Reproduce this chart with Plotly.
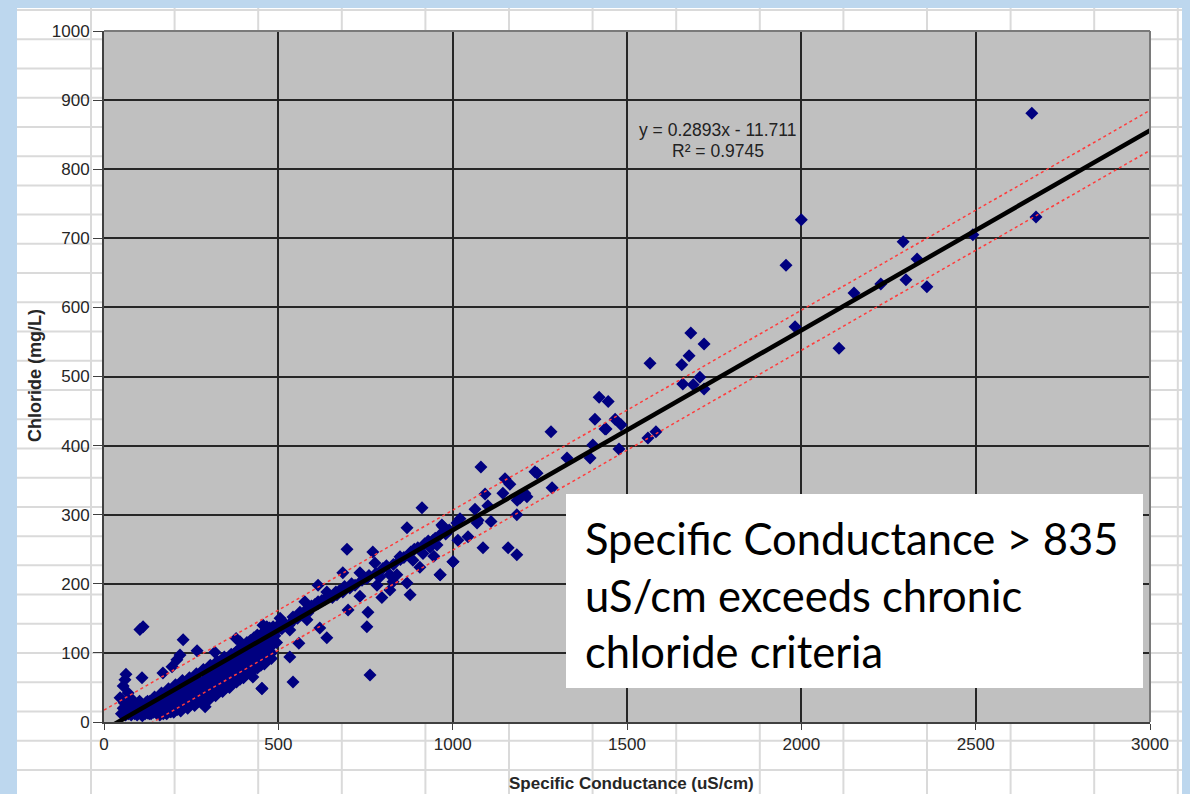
import plotly.graph_objects as go

# ---------------- data ----------------
# dense low-range cloud
cond_low = [50,55,58,60,62,65,68,70,72,75,78,80,82,85,88,90,92,95,98,100,102,105,108,110,112,115,118,120,122,125,128,130,132,135,138,140,142,145,148,150,
            152,155,158,160,162,165,168,170,172,175,178,180,182,185,188,190,192,195,198,200,202,205,208,210,212,215,218,220,222,225,228,230,232,235,238,240,
            242,245,248,250,252,255,258,260,262,265,268,270,272,275,278,280,282,285,288,290,292,295,298,300]
chl_low = [12,20,28,15,10,22,30,12,18,25,10,15,32,20,12,26,16,10,22,14,30,18,11,24,15,20,12,28,18,13,22,16,30,12,20,26,14,18,32,22,
           12,28,18,35,14,24,30,16,38,22,13,28,34,18,40,25,15,32,20,42,28,18,36,24,44,30,20,38,26,46,32,22,42,30,50,36,
           25,44,32,52,40,28,48,36,55,42,30,50,38,58,45,34,52,40,60,48,36,56,44,62]

cond_mid = [302,305,308,310,312,315,318,320,322,325,328,330,332,335,338,340,342,345,348,350,352,355,358,360,362,365,368,370,372,375,378,380,382,385,388,390,
            392,395,398,400,402,405,408,410,412,415,418,420,422,425,428,430,432,435,438,440,445,448,450,455,458,460,465,468,470,475,478,480,485,490,495,500]
chl_mid = [50,68,55,72,45,62,78,58,48,70,82,62,52,75,85,65,56,80,70,90,60,84,74,95,64,88,78,58,98,82,70,102,88,65,96,80,
           105,72,92,110,85,100,75,115,92,104,82,118,96,108,88,122,100,112,92,126,105,118,95,128,110,100,132,115,105,136,120,110,138,125,115,140]

cond_fill = [65,75,85,95,105,115,125,135,145,155,165,175,185,195,205,215,225,235,245,255,265,275,285,295,305,315,325,335,345,355,365,375,385,395,405,415,425,435,445,455,465,475,
             110,130,150,170,190,210,230,250,270,290,310,330,350,370,390,410,430,450]
chl_fill = [18,14,26,20,26,17,30,22,36,26,42,33,48,38,54,44,60,47,64,52,70,57,76,64,82,70,88,76,94,80,98,86,104,90,110,96,114,100,120,106,126,112,
            9,12,15,20,25,30,36,42,48,55,62,68,74,80,86,92,98,104]

# lower edge of the dense cloud (below the lower dotted line)
cond_under = [160,160,170,180,180,190,200,200,210,220,220,230,240,240,250,260,260,270,280,280,290,300,300,310,320,320,330,340,340,350,
              360,360,370,380,380,390,400,400,410,420,420,430,440,440,450,460,460,470,480,480]
chl_under = [10,14,12,12,18,15,14,22,18,16,26,22,20,30,26,24,36,30,28,40,35,32,46,40,38,50,45,44,56,50,
             50,62,56,58,68,62,64,74,70,72,80,76,78,88,82,84,94,90,92,100]

cond_line = [510,520,530,545,555,565,575,585,595,605,615,625,635,645,655,665,675,690,710,720,740,760,780,800,810,830,850,860,880,890,900,920,930,950,980,990]
chl_line = [135,142,140,148,150,155,160,158,168,170,172,176,178,182,180,188,190,196,200,198,205,212,215,222,226,228,235,238,246,250,252,258,262,266,272,278]

# scattered points read individually
cond_pts = [112,103,227,267,218,209,195,169,109,63,60,55,69,46,290,427,453,379,390,456,318,467,
            869,969,697,771,777,685,734,754,791,820,849,886,915,944,964,1001,878,820,797,734,757,754,763,705,685,
            614,639,668,700,614,576,591,562,542,582,619,639,505,505,533,485,467,456,559,533,542,453,467,935,906,
            869,829,783,840,912,946,964,955,
            1282,1081,1236,1242,1150,1164,1285,1144,1207,1193,1213,1185,1093,1101,1064,1184,1073,1110,1070,1021,
            1012,972,1044,1015,1087,1159,1184,1001,964,
            1683,1721,1566,1657,1678,1709,1660,1690,1721,1420,1446,1408,1466,1440,1483,1402,1477,1394,1328,1560,1583,1437,
            1956,2292,2332,2300,2360,2228,2151,1982,2108,2000,2492,2661,2673]
chl_pts = [138,134,119,103,97,90,80,71,64,69,61,52,42,35,22,65,48,121,116,140,101,133,
           281,285,250,246,230,216,216,208,210,213,239,234,244,263,213,232,184,191,180,182,159,138,68,194,188,
           198,188,184,162,174,174,165,159,152,148,136,122,150,136,133,126,138,129,114,94,58,49,114,253,224,
           201,203,198,213,310,240,271,256,
           420,369,362,360,352,344,339,331,331,324,326,321,330,313,308,300,292,290,288,294,
           288,283,268,263,252,252,242,232,213,
           563,547,519,517,530,499,489,488,482,470,464,438,438,424,430,401,395,382,382,411,420,424,
           661,695,670,640,630,634,621,572,541,727,705,881,731]

# trendline as printed on the chart, and the dotted band offset
SLOPE = 0.2893
INTERCEPT = -11.711
BAND = 29.0
X_RANGE = [0, 3000]
Y_RANGE = [0, 1000]
x_ticks = [0, 500, 1000, 1500, 2000, 2500, 3000]
y_ticks = [0, 100, 200, 300, 400, 500, 600, 700, 800, 900, 1000]

sc = cond_low + cond_mid + cond_fill + cond_under + cond_line + cond_pts
cl = chl_low + chl_mid + chl_fill + chl_under + chl_line + chl_pts

# ---------------- figure ----------------
W, H = 1190, 794
OFF = 8  # page body margin
# plot area in page pixels: left 104, right 1150, top 31, bottom 722
ML = 104 - OFF
MT = 31 - OFF
PW = 1150 - 104
PH = 722 - 31
MR = W - ML - PW
MB = H - MT - PH


def px(xp):  # page pixel -> paper x
    return (xp - OFF - ML) / PW


def py(yp):  # page pixel -> paper y
    return (MT + PH - (yp - OFF)) / PH


fig = go.Figure()

fig.add_trace(go.Scatter(x=sc, y=cl, mode="markers",
                         marker=dict(symbol="diamond", size=10, color="#000080",
                                     line=dict(width=0)),
                         showlegend=False, hoverinfo="x+y"))

xl = X_RANGE
yfit = [SLOPE * v + INTERCEPT for v in xl]
fig.add_trace(go.Scatter(x=xl, y=[v + BAND for v in yfit], mode="lines",
                         line=dict(color="#FF3B3B", width=1.5, dash="dot"), showlegend=False))
fig.add_trace(go.Scatter(x=xl, y=[v - BAND for v in yfit], mode="lines",
                         line=dict(color="#FF3B3B", width=1.5, dash="dot"), showlegend=False))
fig.add_trace(go.Scatter(x=xl, y=yfit, mode="lines",
                         line=dict(color="black", width=4.5), showlegend=False))

shapes = []
# spreadsheet-like background grid
gx = 91.0
while gx < 1188:
    shapes.append(dict(type="line", xref="paper", yref="paper", x0=px(gx), x1=px(gx),
                       y0=py(6), y1=py(800), line=dict(color="#DADADA", width=2), layer="below"))
    gx += 83.6
gy = 10.0
while gy < 800:
    shapes.append(dict(type="line", xref="paper", yref="paper", x0=px(17), x1=px(1187),
                       y0=py(gy), y1=py(gy), line=dict(color="#DADADA", width=2), layer="below"))
    gy += 29.23
# light blue frame
for (a, b, c, d) in [(0, 0, 17, 800), (0, 0, 1200, 6), (1187, 0, 1200, 800)]:
    shapes.append(dict(type="rect", xref="paper", yref="paper", x0=px(a), x1=px(c),
                       y0=py(d), y1=py(b), fillcolor="#BDD7EE", line=dict(width=0), layer="below"))
# grey plot area
shapes.append(dict(type="rect", xref="paper", yref="paper", x0=0, x1=1, y0=0, y1=1,
                   fillcolor="#C0C0C0", line=dict(width=0), layer="below"))
# top / right border
shapes.append(dict(type="line", xref="paper", yref="paper", x0=0, x1=1, y0=1, y1=1,
                   line=dict(color="#7A7A7A", width=2), layer="above"))
shapes.append(dict(type="line", xref="paper", yref="paper", x0=1, x1=1, y0=0, y1=1,
                   line=dict(color="#7A7A7A", width=2), layer="above"))
# white text box
shapes.append(dict(type="rect", xref="paper", yref="paper", x0=px(566), x1=px(1143),
                   y0=py(688), y1=py(494), fillcolor="white", line=dict(width=0), layer="above"))

annotations = [
    dict(xref="paper", yref="paper", x=px(717), y=py(118), text="y = 0.2893x - 11.711",
         showarrow=False, font=dict(family="Liberation Sans, Arial", size=17.5, color="#222")),
    dict(xref="paper", yref="paper", x=px(718), y=py(139), text="R² = 0.9745",
         showarrow=False, font=dict(family="Liberation Sans, Arial", size=17.5, color="#222")),
    dict(xref="paper", yref="paper", x=px(583), y=py(594), xanchor="left", yanchor="middle",
         align="left",
         text="Specific Conductance > 835<br>uS/cm exceeds chronic<br>chloride criteria",
         showarrow=False, font=dict(family="Lato, Open Sans, sans-serif", size=43.5, color="black")),
    dict(xref="paper", yref="paper", x=px(35), y=py(376), xanchor="center", yanchor="middle",
         textangle=-90, text="<b>Chloride (mg/L)</b>", showarrow=False,
         font=dict(family="Liberation Sans, Arial", size=18, color="#262626")),
    dict(xref="paper", yref="paper", x=px(631), y=py(783), xanchor="center", yanchor="middle",
         text="<b>Specific Conductance (uS/cm)</b>", showarrow=False,
         font=dict(family="Liberation Sans, Arial", size=17, color="#262626")),
]

fig.update_layout(
    width=W, height=H,
    margin=dict(l=ML, r=MR, t=MT, b=MB, pad=0),
    paper_bgcolor="white", plot_bgcolor="rgba(0,0,0,0)",
    shapes=shapes, annotations=annotations,
    font=dict(family="Liberation Sans, Arial", color="#262626"),
    xaxis=dict(range=X_RANGE, tickvals=x_ticks, showgrid=True, gridcolor="#262626", gridwidth=1.5,
               zeroline=False, showline=True, linecolor="#404040", linewidth=2,
               ticks="outside", ticklen=6, tickcolor="#404040", tickfont=dict(size=17)),
    yaxis=dict(range=Y_RANGE, tickvals=y_ticks, showgrid=True, gridcolor="#262626", gridwidth=1.5,
               zeroline=False, showline=True, linecolor="#404040", linewidth=2,
               ticks="outside", ticklen=9, tickcolor="#404040", tickfont=dict(size=17)),
)

fig.write_html("out.html", post_script="document.body.style.background='#BDD7EE';")
